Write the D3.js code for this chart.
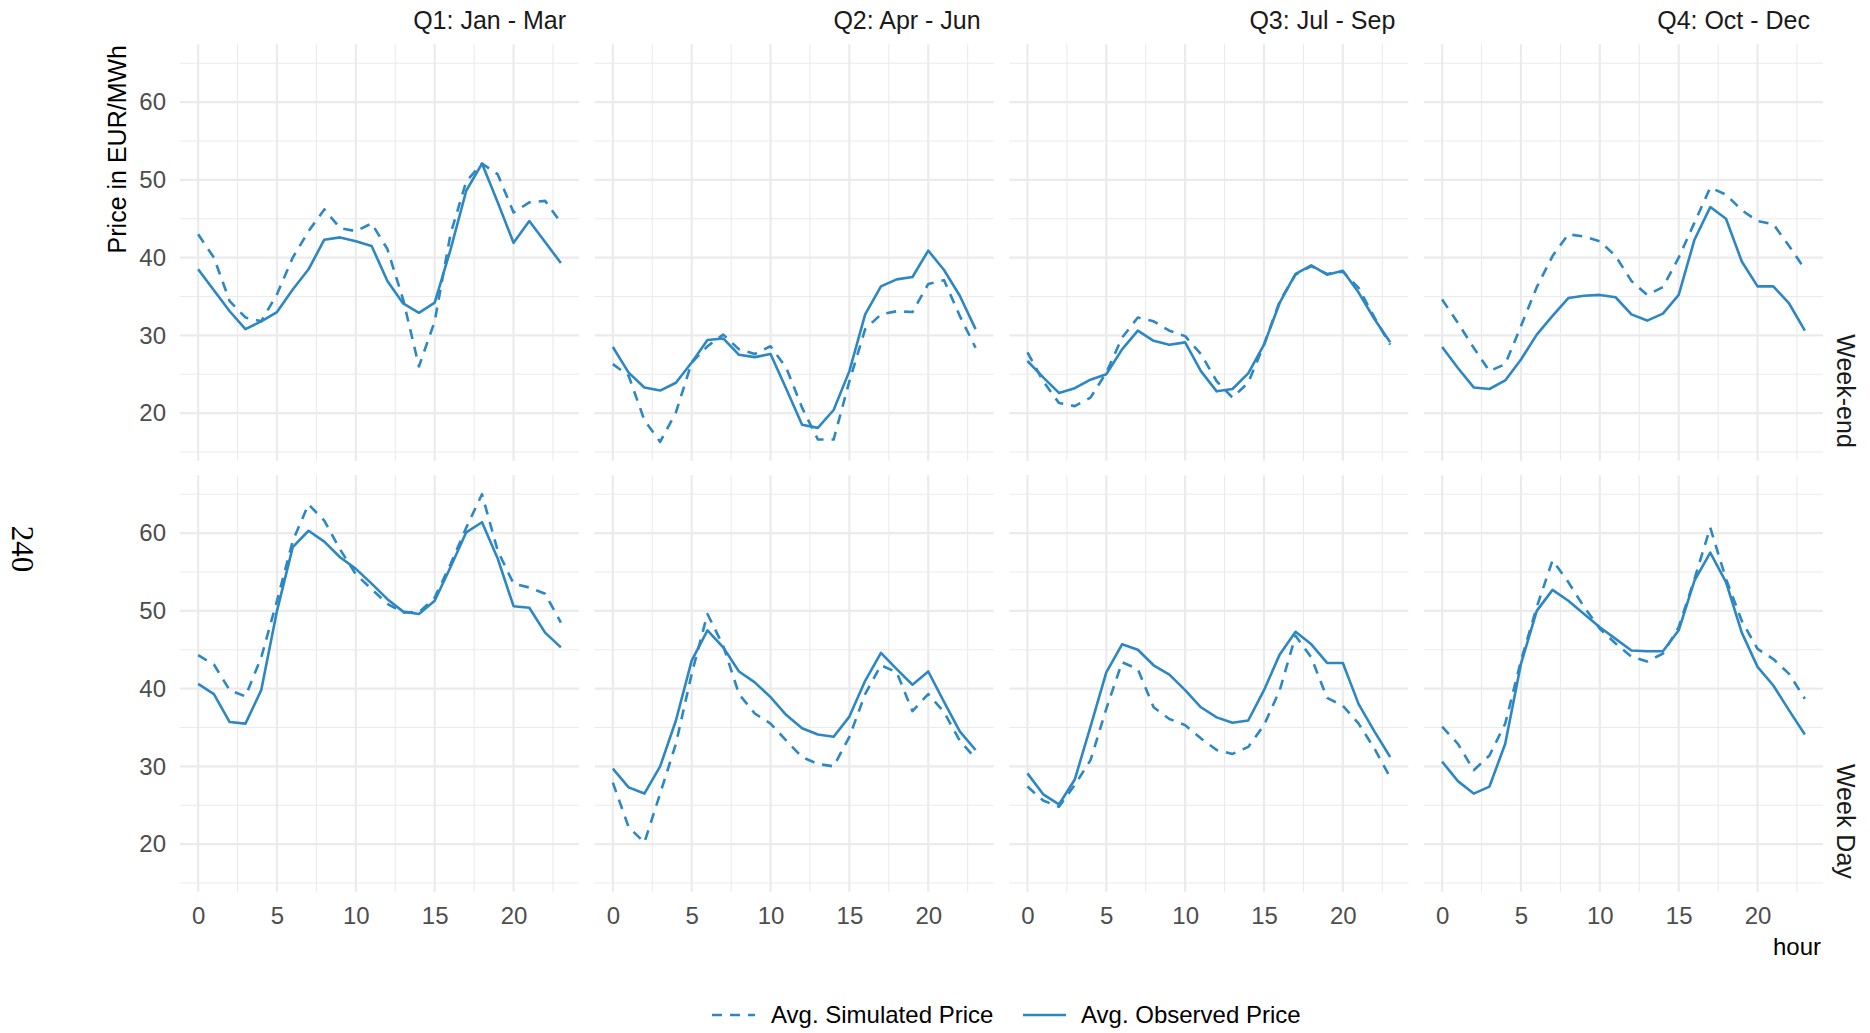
<!DOCTYPE html>
<html><head><meta charset="utf-8">
<script src="https://cdn.jsdelivr.net/npm/d3@7"></script>
<style>body{margin:0;background:#fff}svg{display:block}</style>
</head><body>
<svg id="chart" width="1870" height="1033"></svg>
<script>
// ---------------- data ----------------
const hours = [0,1,2,3,4,5,6,7,8,9,10,11,12,13,14,15,16,17,18,19,20,21,22,23];
const quarters = ["Q1: Jan - Mar","Q2: Apr - Jun","Q3: Jul - Sep","Q4: Oct - Dec"];
const dayTypes = ["Week-end","Week Day"];
const seriesNames = ["Avg. Simulated Price","Avg. Observed Price"];
const xTicks = [0,5,10,15,20];
const xMinorTicks = [2.5,7.5,12.5,17.5,22.5];
const yTicks = [20,30,40,50,60];
const yMinorTicks = [15,25,35,45,55,65];

// Week-end
const simWeekendQ1 = [43.0,40.0,34.4,32.3,31.8,35.3,40.0,43.4,46.2,43.8,43.4,44.4,41.1,34.6,26.0,31.8,43.0,49.8,52.1,50.7,45.8,47.1,47.3,44.5];
const obsWeekendQ1 = [38.5,35.8,33.1,30.8,31.8,33.0,35.9,38.5,42.3,42.6,42.1,41.5,37.0,34.1,32.9,34.2,41.0,48.6,52.1,47.1,41.9,44.7,42.0,39.3];
const simWeekendQ2 = [26.3,24.8,19.1,16.3,20.1,26.5,28.6,30.1,28.2,27.6,28.6,25.8,20.7,16.6,16.6,24.1,30.8,32.7,33.1,33.0,36.6,37.1,32.5,28.4];
const obsWeekendQ2 = [28.5,25.2,23.3,22.9,23.9,26.5,29.4,29.6,27.5,27.2,27.6,23.1,18.5,18.1,20.4,25.4,32.7,36.3,37.2,37.5,40.9,38.4,35.1,30.8];
const simWeekendQ3 = [27.8,24.1,21.3,20.9,22.0,25.2,29.7,32.3,31.8,30.6,29.9,27.6,24.1,22.0,23.9,28.8,34.4,37.8,38.9,37.9,38.2,36.1,32.3,28.8];
const obsWeekendQ3 = [26.7,24.6,22.6,23.2,24.3,25.0,28.2,30.6,29.3,28.8,29.1,25.4,22.8,23.1,25.1,28.8,34.2,37.9,39.0,37.8,38.3,35.5,32.1,29.1];
const simWeekendQ4 = [34.6,31.6,28.4,25.4,26.3,31.2,36.2,40.2,43.0,42.7,42.1,40.2,37.0,35.2,36.2,40.0,44.5,49.0,48.1,46.1,44.7,44.3,41.5,38.5];
const obsWeekendQ4 = [28.5,25.8,23.3,23.1,24.2,26.9,30.1,32.5,34.8,35.1,35.2,34.9,32.7,31.9,32.8,35.2,42.3,46.5,45.0,39.5,36.3,36.3,34.1,30.6];
// Week Day
const simWeekdayQ1 = [44.3,43.1,39.8,39.0,44.0,51.3,59.0,63.7,61.6,57.9,54.7,52.8,50.9,49.8,49.8,51.7,56.0,60.7,65.0,57.7,53.5,53.0,52.2,48.5];
const obsWeekdayQ1 = [40.6,39.3,35.7,35.5,39.8,50.0,58.2,60.3,58.9,56.9,55.4,53.5,51.5,49.9,49.6,51.3,55.6,60.1,61.4,56.7,50.6,50.4,47.2,45.3];
const simWeekdayQ2 = [27.9,22.2,20.2,26.5,32.9,41.9,49.6,45.5,39.3,36.8,35.5,33.3,31.2,30.3,30.0,33.8,39.3,43.0,42.1,37.1,39.3,37.0,33.3,31.0];
const obsWeekdayQ2 = [29.7,27.3,26.5,30.0,35.9,43.6,47.5,45.3,42.2,40.8,38.9,36.6,34.9,34.1,33.8,36.4,41.0,44.6,42.5,40.5,42.2,38.3,34.5,32.1];
const simWeekdayQ3 = [27.4,25.6,24.8,27.6,30.8,37.4,43.4,42.5,37.6,36.1,35.3,33.6,32.1,31.6,32.5,35.3,39.8,46.8,44.0,38.8,37.8,35.5,32.3,28.6];
const obsWeekdayQ3 = [29.1,26.4,25.1,28.3,35.1,42.1,45.7,45.0,43.0,41.8,39.8,37.6,36.3,35.6,35.9,39.8,44.4,47.3,45.7,43.3,43.3,38.0,34.5,31.2];
const simWeekdayQ4 = [35.1,32.9,29.5,31.4,35.5,43.6,50.5,56.5,53.7,50.5,47.7,45.8,44.1,43.5,44.5,47.9,54.1,60.7,54.1,48.7,45.1,43.8,41.9,38.7];
const obsWeekdayQ4 = [30.6,28.1,26.5,27.4,32.9,43.2,50.0,52.7,51.3,49.6,47.9,46.4,44.9,44.8,44.8,47.5,53.9,57.5,53.7,47.2,42.8,40.4,37.2,34.1];

const panelSim = [[simWeekendQ1,simWeekendQ2,simWeekendQ3,simWeekendQ4],[simWeekdayQ1,simWeekdayQ2,simWeekdayQ3,simWeekdayQ4]];
const panelObs = [[obsWeekendQ1,obsWeekendQ2,obsWeekendQ3,obsWeekendQ4],[obsWeekdayQ1,obsWeekdayQ2,obsWeekdayQ3,obsWeekdayQ4]];

// ---------------- layout ----------------
const FONT = "'Liberation Sans', Arial, Helvetica, sans-serif";
const COLOR = "#2c87c3";
const GRID = "#ebebeb";
const panelW = 399, panelH = 416.5;
const panelLefts = [180, 594.7, 1009.3, 1424];
const panelTops = [44.3, 475.3];

const svg = d3.select("#chart");

const xExt = d3.extent(hours), xPad = (xExt[1]-xExt[0])*0.05;
const x = d3.scaleLinear().domain([xExt[0]-xPad, xExt[1]+xPad]).range([0, panelW]);
const allVals = panelSim.flat(2).concat(panelObs.flat(2));
const yExt = d3.extent(allVals), yPad = (yExt[1]-yExt[0])*0.05;
const y = d3.scaleLinear().domain([yExt[0]-yPad, yExt[1]+yPad]).range([panelH, 0]);

const line = d3.line().x((d,i)=>x(hours[i])).y(d=>y(d));

dayTypes.forEach((dt, r) => {
  quarters.forEach((q, c) => {
    const g = svg.append("g").attr("transform", `translate(${panelLefts[c]},${panelTops[r]})`);
    // minor grid
    g.selectAll(".ymin").data(yMinorTicks.filter(v=>y(v)>=0 && y(v)<=panelH)).join("line")
      .attr("x1",0).attr("x2",panelW).attr("y1",d=>y(d)).attr("y2",d=>y(d))
      .attr("stroke",GRID).attr("stroke-width",1.1);
    g.selectAll(".xmin").data(xMinorTicks).join("line")
      .attr("y1",0).attr("y2",panelH).attr("x1",d=>x(d)).attr("x2",d=>x(d))
      .attr("stroke",GRID).attr("stroke-width",1.1);
    // major grid
    g.selectAll(".ymaj").data(yTicks).join("line")
      .attr("x1",0).attr("x2",panelW).attr("y1",d=>y(d)).attr("y2",d=>y(d))
      .attr("stroke",GRID).attr("stroke-width",2.2);
    g.selectAll(".xmaj").data(xTicks).join("line")
      .attr("y1",0).attr("y2",panelH).attr("x1",d=>x(d)).attr("x2",d=>x(d))
      .attr("stroke",GRID).attr("stroke-width",2.2);

    // series
    g.append("path").datum(panelSim[r][c]).attr("d",line)
      .attr("fill","none").attr("stroke",COLOR).attr("stroke-width",2.6)
      .attr("stroke-dasharray","10,8").attr("stroke-linejoin","round");
    g.append("path").datum(panelObs[r][c]).attr("d",line)
      .attr("fill","none").attr("stroke",COLOR).attr("stroke-width",2.6)
      .attr("stroke-linejoin","round");

    // axes
    if (c === 0) {
      const ax = g.append("g").call(d3.axisLeft(y).tickValues(yTicks).tickSize(0).tickPadding(14));
      ax.select(".domain").remove();
      ax.selectAll("text").attr("font-family",FONT).attr("font-size",24).attr("fill","#4d4d4d");
    }
    if (r === 1) {
      const ax = g.append("g").attr("transform",`translate(0,${panelH})`)
        .call(d3.axisBottom(x).tickValues(xTicks).tickSize(0).tickPadding(15));
      ax.select(".domain").remove();
      ax.selectAll("text").attr("font-family",FONT).attr("font-size",24).attr("fill","#4d4d4d");
    }
    // strips
    if (r === 0) {
      svg.append("text").attr("x", panelLefts[c]+panelW-13).attr("y", 29)
        .attr("text-anchor","end").attr("font-family",FONT).attr("font-size",25)
        .attr("fill","#1a1a1a").text(q);
    }
    if (c === 3) {
      svg.append("text")
        .attr("transform",`translate(1837,${panelTops[r]+panelH-13}) rotate(90)`)
        .attr("text-anchor","end").attr("font-family",FONT).attr("font-size",25)
        .attr("fill","#1a1a1a").text(dt);
    }
  });
});

// axis titles
svg.append("text").attr("transform","translate(126,45) rotate(-90)")
  .attr("text-anchor","end").attr("font-family",FONT).attr("font-size",25)
  .attr("fill","#000").text("Price in EUR/MWh");
svg.append("text").attr("x", panelLefts[3]+panelW-2).attr("y", 955)
  .attr("text-anchor","end").attr("font-family",FONT).attr("font-size",24)
  .attr("fill","#000").text("hour");
svg.append("text").attr("transform","translate(12,549) rotate(90)")
  .attr("text-anchor","middle").attr("font-family","'Liberation Serif', 'Times New Roman', serif")
  .attr("font-size",31).attr("fill","#000").text("240");

// legend
const legendItems = [
  {name: seriesNames[0], dash: "10,8", kx: 712, tx: 771},
  {name: seriesNames[1], dash: null, kx: 1023, tx: 1081}
];
const lg = svg.append("g");
legendItems.forEach(it => {
  lg.append("line").attr("x1",it.kx).attr("x2",it.kx+43).attr("y1",1015).attr("y2",1015)
    .attr("stroke",COLOR).attr("stroke-width",2.6).attr("stroke-dasharray",it.dash);
  lg.append("text").attr("x",it.tx).attr("y",1023).attr("font-family",FONT).attr("font-size",24)
    .attr("fill","#000").text(it.name);
});
</script>
</body></html>
